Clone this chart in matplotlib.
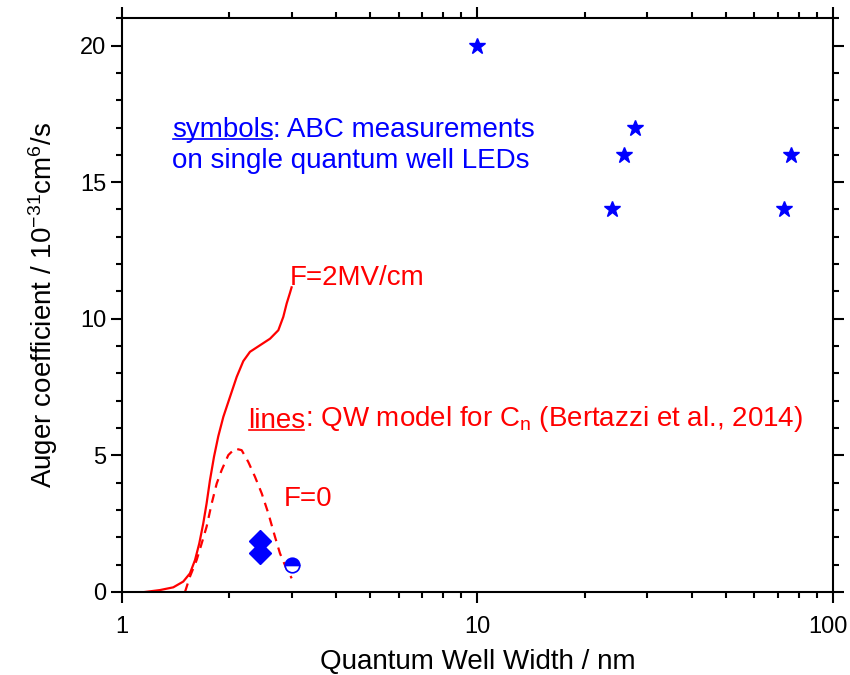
import numpy as np
import matplotlib.pyplot as plt
import matplotlib.transforms as mtransforms
from matplotlib.lines import Line2D
from matplotlib.ticker import MultipleLocator, LogLocator, NullFormatter

plt.rcParams['font.family'] = ['Liberation Sans', 'DejaVu Sans']
plt.rcParams['mathtext.default'] = 'regular'

#--------------------------------------------------------------------------------------------------
# Data
# ABC measurements (stars)
star_w = [10.0, 27.7, 25.8, 23.9, 72.8, 76.2]
star_c = [20.0, 17.0, 16.0, 14.0, 14.0, 16.0]

# ABC measurements (diamonds)
diam_w = [2.44, 2.44]
diam_c = [1.87, 1.43]

# half filled circle
circ_w = [3.0]
circ_c = [1.0]

# QW model, F=2MV/cm
f2_w = [1.161, 1.279, 1.394, 1.487, 1.553, 1.605, 1.650, 1.693, 1.730, 1.768,
        1.815, 1.866, 1.928, 2.013, 2.102, 2.194, 2.291, 2.445, 2.609, 2.753,
        2.843, 2.906, 2.969, 3.000]
f2_c = [0.0, 0.07, 0.17, 0.38, 0.68, 1.17, 1.78, 2.51, 3.24, 4.09,
        4.95, 5.70, 6.41, 7.14, 7.87, 8.45, 8.79, 9.03, 9.27, 9.58,
        10.07, 10.56, 10.95, 11.15]

# QW model, F=0
f0_w = [1.504, 1.553, 1.622, 1.676, 1.730, 1.788, 1.847, 1.907, 1.991, 2.079,
        2.171, 2.266, 2.366, 2.472, 2.580, 2.694, 2.783, 2.887, 3.002]
f0_c = [0.0, 0.56, 1.17, 1.78, 2.39, 3.24, 3.97, 4.46, 5.01, 5.25,
        5.19, 4.76, 4.22, 3.61, 2.88, 2.02, 1.41, 0.92, 0.50]

x_ticks = [1, 10, 100]
x_ticklabels = ['1', '10', '100']

#--------------------------------------------------------------------------------------------------
# Plot
fig = plt.figure(figsize=(8.5, 6.75), dpi=100)
ax = fig.add_axes([0.1435, 0.123, 0.8365, 0.85])

ax.plot(f2_w, f2_c, '-', color='red', lw=1.6)
ax.plot(f0_w, f0_c, '--', color='red', lw=1.6, dashes=(4, 3))

ax.plot(star_w, star_c, '*', color='blue', ms=12, ls='none')
ax.plot(diam_w, diam_c, 'D', color='blue', ms=11, ls='none')
ax.plot(circ_w, circ_c, 'o', ls='none', ms=10.5, fillstyle='top',
        markerfacecolor='blue', markerfacecoloralt='white',
        markeredgecolor='blue', markeredgewidth=1.2)

ax.set_xscale('log')
ax.set_xlim(1, 100)
ax.set_ylim(0, 21)
ax.yaxis.set_major_locator(MultipleLocator(5))
ax.yaxis.set_minor_locator(MultipleLocator(1))
ax.xaxis.set_minor_locator(LogLocator(base=10, subs=np.arange(2, 10)))
ax.xaxis.set_minor_formatter(NullFormatter())
ax.set_xticks(x_ticks)
ax.set_xticklabels(x_ticklabels)

for sp in ax.spines.values():
    sp.set_linewidth(1.5)
ax.tick_params(which='both', direction='out', top=True, right=True,
               width=1.5, labelsize=17)
ax.tick_params(which='major', length=8)
ax.tick_params(which='minor', length=4)
ax.tick_params(axis='x', which='major', pad=9)

# keep the last x tick label inside the figure
lab = ax.get_xticklabels()[-1]
lab.set_transform(lab.get_transform() +
                  mtransforms.ScaledTranslation(-5 / 100, 0, fig.dpi_scale_trans))

ax.set_xlabel('Quantum Well Width / nm', fontsize=20, labelpad=8)
ax.set_ylabel('Auger coefficient / 10$^{-31}$cm$^6$/s', fontsize=20, labelpad=14)

# annotations
fs = 20
t_sym = ax.text(0.07, 0.793, 'symbols', color='blue', fontsize=fs,
                transform=ax.transAxes, va='baseline')
ax.annotate(': ABC measurements', xy=(1, 0), xycoords=t_sym, va='bottom',
            color='blue', fontsize=fs)
ax.text(0.07, 0.739, 'on single quantum well LEDs', color='blue', fontsize=fs,
        transform=ax.transAxes, va='baseline')

t_lin = ax.text(0.177, 0.286, 'lines', color='red', fontsize=fs,
                transform=ax.transAxes, va='baseline')
ax.annotate(': QW model for C$_n$ (Bertazzi et al., 2014)', xy=(1, 0),
            xycoords=t_lin, va='bottom', color='red', fontsize=fs)

ax.text(0.236, 0.535, 'F=2MV/cm', color='red', fontsize=fs,
        transform=ax.transAxes, va='baseline')
ax.text(0.227, 0.150, 'F=0', color='red', fontsize=fs,
        transform=ax.transAxes, va='baseline')

# underline the keywords
fig.canvas.draw()
inv = fig.transFigure.inverted()
for t, col in [(t_sym, 'blue'), (t_lin, 'red')]:
    bb = t.get_window_extent()
    xb, yb = ax.transAxes.transform(t.get_position())
    x0, y0 = inv.transform((bb.x0 + 1, yb - 2))
    x1, _ = inv.transform((bb.x1 - 1, yb - 2))
    fig.add_artist(Line2D([x0, x1], [y0, y0], color=col, lw=1.2,
                          transform=fig.transFigure))

fig.savefig('out.png', dpi=100)
